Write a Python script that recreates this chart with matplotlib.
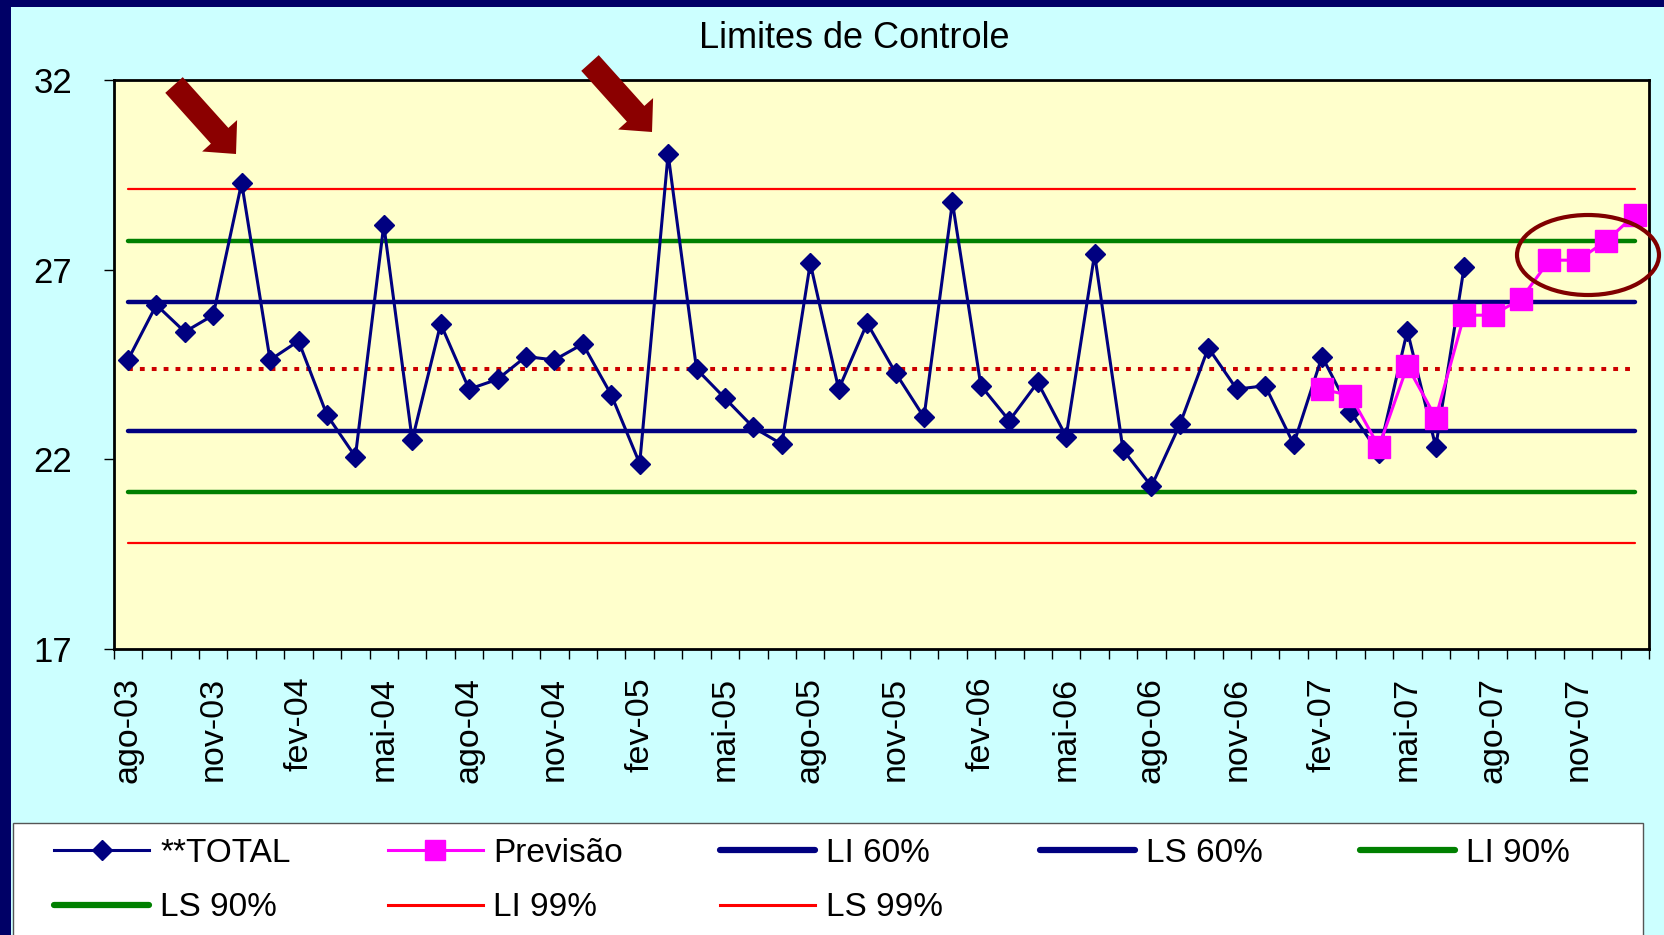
import matplotlib.pyplot as plt
import numpy as np
from matplotlib.patches import Rectangle, FancyArrow, Ellipse
from matplotlib.lines import Line2D

plt.rcParams['font.family'] = ['Liberation Sans', 'DejaVu Sans']

# monthly totals, ago-03 .. jul-07
total = [24.62, 26.07, 25.36, 25.80, 29.29, 24.62, 25.12, 23.17, 22.07, 28.18,
         22.51, 25.57, 23.85, 24.11, 24.71, 24.62, 25.04, 23.70, 21.89, 30.05,
         24.38, 23.61, 22.84, 22.40, 27.17, 23.85, 25.59, 24.28, 23.11, 28.78,
         23.94, 23.02, 24.03, 22.60, 27.41, 22.25, 21.29, 22.92, 24.94, 23.85,
         23.94, 22.40, 24.71, 23.26, 22.16, 25.39, 22.33, 27.08]
# forecast, fev-07 .. jan-08
previsao = [23.85, 23.68, 22.33, 24.46, 23.10, 25.80, 25.80, 26.23, 27.25,
            27.25, 27.76, 28.44]
prev_start = 42
n_months = 54

tick_labels = ["ago-03", "nov-03", "fev-04", "mai-04", "ago-04", "nov-04",
               "fev-05", "mai-05", "ago-05", "nov-05", "fev-06", "mai-06",
               "ago-06", "nov-06", "fev-07", "mai-07", "ago-07", "nov-07"]

# control limits
media = 24.39
li60, ls60 = 22.75, 26.15
li90, ls90 = 21.14, 27.76
li99, ls99 = 19.79, 29.12

W, H = 1664, 935
fig = plt.figure(figsize=(W / 100, H / 100), dpi=100, facecolor="#000066")
fig.add_artist(Rectangle((11 / W, 0), 1 - 11 / W, 1 - 7 / H, transform=fig.transFigure,
                         facecolor="#CCFFFF", edgecolor="none", zorder=-10))
# legend box
fig.add_artist(Rectangle((13 / W, -0.02), 1630 / W, 0.02 + (H - 823) / H,
                         transform=fig.transFigure, facecolor="white",
                         edgecolor="#555555", lw=1, zorder=-5))

ax = fig.add_axes([113.7 / W, 1 - 649 / H, (1649 - 113.7) / W, (649 - 80) / H])
ax.set_facecolor("#FFFFCC")
for s in ax.spines.values():
    s.set_linewidth(2)
    s.set_color("black")

x = np.arange(n_months)
full = np.ones(n_months)
ax.plot(x, full * li99, color="#FF0000", lw=1.6, zorder=2, solid_capstyle="round")
ax.plot(x, full * ls99, color="#FF0000", lw=1.6, zorder=2, solid_capstyle="round")
ax.plot(x, full * li90, color="#008000", lw=3.2, zorder=2, solid_capstyle="round")
ax.plot(x, full * ls90, color="#008000", lw=3.2, zorder=2, solid_capstyle="round")
ax.plot(x, full * li60, color="#000080", lw=3.2, zorder=2, solid_capstyle="round")
ax.plot(x, full * ls60, color="#000080", lw=3.2, zorder=2, solid_capstyle="round")
ax.plot(x, full * media, color="#CC0000", lw=2.9, ls=(0, (1.2, 1.75)), zorder=2)

ax.plot(x[:len(total)], total, color="#000080", lw=2.2, marker="D", ms=10,
        mec="#000080", mfc="#000080", zorder=3)
xp = x[prev_start:prev_start + len(previsao)]
ax.plot(xp, previsao, color="#FF00FF", lw=2.2, marker="s", ms=16,
        mec="#FF00FF", mfc="#FF00FF", zorder=4)

ax.set_xlim(-0.5, n_months - 0.5)
ax.set_ylim(17, 32)
ax.set_yticks([17, 22, 27, 32])
ax.tick_params(axis="y", direction="out", length=7, width=1, pad=23, labelsize=25)
ax.set_xticks(np.arange(-0.5, n_months, 1))
ax.set_xticklabels([])
ax.tick_params(axis="x", which="major", direction="out", length=7, width=1)
ax.set_xticks(np.arange(0, n_months, 3)[:len(tick_labels)], minor=True)
ax.set_xticklabels(tick_labels, minor=True, rotation=90)
ax.tick_params(axis="x", which="minor", length=0, pad=20, labelsize=24.5)

fig.text(854 / W, 1 - 38 / H, "Limites de Controle", ha="center", va="center", fontsize=26)

# highlight arrows and ellipse (inches, from bottom-left)
for tx, ty in [(1.74, 8.50), (5.90, 8.72)]:
    fig.add_artist(FancyArrow(tx, ty, 0.62, -0.69, width=0.235, head_width=0.47,
                              head_length=0.245, length_includes_head=True,
                              transform=fig.dpi_scale_trans, color="#8B0000", lw=0))
fig.add_artist(Ellipse((15.88, 6.80), 1.42, 0.80, transform=fig.dpi_scale_trans,
                       facecolor="none", edgecolor="#800000", lw=3))

handles = [
    Line2D([], [], color="#000080", lw=2.2, marker="D", ms=10),
    Line2D([], [], color="#008000", lw=4.5, solid_capstyle="round"),
    Line2D([], [], color="#FF00FF", lw=2.2, marker="s", ms=14),
    Line2D([], [], color="#FF0000", lw=2.2),
    Line2D([], [], color="#000080", lw=4.5, solid_capstyle="round"),
    Line2D([], [], color="#FF0000", lw=2.2),
    Line2D([], [], color="#000080", lw=4.5, solid_capstyle="round"),
    Line2D([], [], color="#008000", lw=4.5, solid_capstyle="round"),
]
labels = ["**TOTAL", "LS 90%", "Previsão", "LI 99%", "LI 60%", "LS 99%", "LS 60%", "LI 90%"]
fig.legend(handles, labels, loc="center", bbox_to_anchor=(41 / W, 1 - 880.5 / H, 1542 / W, 0),
           mode="expand", ncol=5, frameon=False, fontsize=24, handlelength=2.85,
           handletextpad=0.32, labelspacing=0.71, borderaxespad=0)

fig.savefig("out.png", dpi=100, facecolor=fig.get_facecolor())
